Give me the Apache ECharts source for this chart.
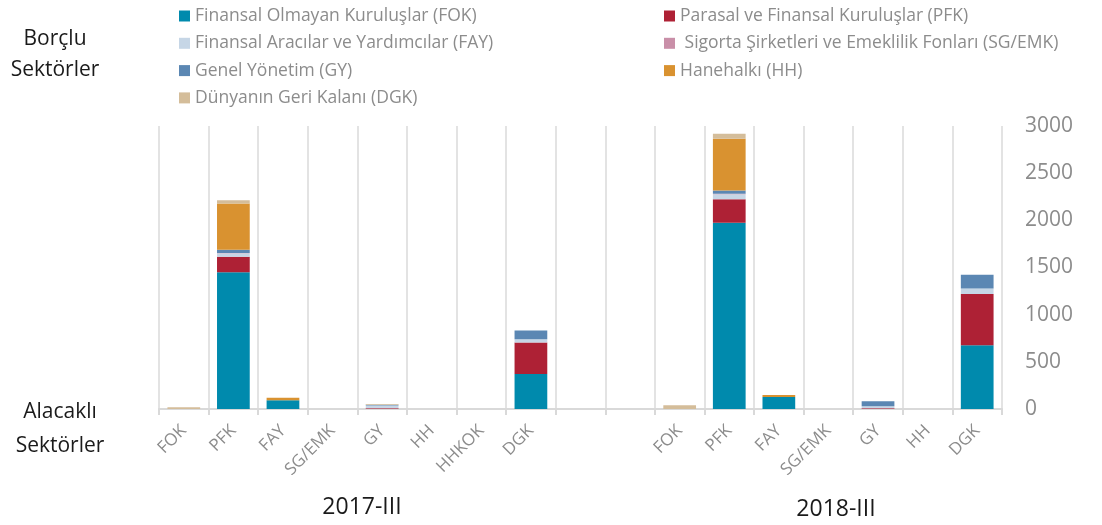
<!DOCTYPE html>
<html>
<head>
<meta charset="utf-8">
<script src="https://cdn.jsdelivr.net/npm/echarts@6/dist/echarts.min.js"></script>
<style>
html,body{margin:0;padding:0;background:#fff;}
#chart{width:1102px;height:525px;}
</style>
</head>
<body>
<div id="chart"></div>
<script>
// Categories (17 slots: 2017-III group, 2 empty slots, 2018-III group)
const categories = ['FOK','PFK','FAY','SG/EMK','GY','HH','HHKOK','DGK','','','FOK','PFK','FAY','SG/EMK','GY','HH','DGK'];
const groupLabels = ['2017-III','2018-III'];
const yTicks = [0,500,1000,1500,2000,2500,3000];

const seriesNames = [
  'Finansal Olmayan Kuruluşlar (FOK)',
  'Parasal ve Finansal Kuruluşlar (PFK)',
  'Finansal Aracılar ve Yardımcılar (FAY)',
  ' Sigorta Şirketleri ve Emeklilik Fonları (SG/EMK)',
  'Genel Yönetim (GY)',
  'Hanehalkı (HH)',
  'Dünyanın Geri Kalanı (DGK)'
];

// Values per lending (borçlu) sector, by category slot
const valFOK   = [0,1450,92,0,0,0,0,370, null,null, 0,1975,128,0,0,0,675];
const valPFK   = [0,165,0,0,8,0,0,335,   null,null, 0,248,0,0,8,0,543];
const valFAY   = [0,36,0,0,28,0,0,35,    null,null, 0,53,0,0,21,0,60];
const valSGEMK = [0,3,0,0,0,0,0,0,       null,null, 0,5,0,0,0,0,0];
const valGY    = [0,35,0,0,10,0,0,92,    null,null, 0,35,0,0,53,0,145];
const valHH    = [0,489,28,0,0,0,0,0,    null,null, 0,550,21,0,0,0,0];
const valDGK   = [18,36,0,0,8,0,0,0,     null,null, 40,53,0,0,0,0,0];

const seriesValues = [valFOK, valPFK, valFAY, valSGEMK, valGY, valHH, valDGK];
const colors = ['#008aad','#ae2135','#c6d6e6','#c98fa8','#5b87b3','#d99230','#d4bd9a'];

const chart = echarts.init(document.getElementById('chart'));
const FONT = "'Open Sans', 'DejaVu Sans', sans-serif";

const legendBase = {
  orient: 'vertical',
  top: 2,
  itemWidth: 11,
  itemHeight: 11,
  itemGap: 9.3,
  icon: 'rect',
  selectedMode: false,
  textStyle: {color: '#8c8c8c', fontSize: 17.5, fontFamily: FONT, lineHeight: 18, padding: [0,0,0,0]}
};

const option = {
  backgroundColor: '#ffffff',
  animation: false,
  color: colors,
  legend: [
    Object.assign({}, legendBase, {left: 174, data: [seriesNames[0], seriesNames[2], seriesNames[4], seriesNames[6]]}),
    Object.assign({}, legendBase, {left: 659, data: [seriesNames[1], seriesNames[3], seriesNames[5]]})
  ],
  grid: {left: 159, right: 100, top: 126, bottom: 116, containLabel: false},
  xAxis: {
    type: 'category',
    data: categories,
    boundaryGap: true,
    axisLine: {show: true, lineStyle: {color: '#d9d9d9', width: 2}},
    axisTick: {show: true, length: 6, interval: 0, lineStyle: {color: '#d9d9d9', width: 2}},
    splitLine: {show: true, interval: 0, lineStyle: {color: '#e3e3e3', width: 2}},
    axisLabel: {interval: 0, rotate: 45, color: '#8c8c8c', fontSize: 17, fontFamily: FONT, margin: 19}
  },
  yAxis: {
    type: 'value',
    position: 'right',
    min: yTicks[0],
    max: yTicks[yTicks.length - 1],
    interval: yTicks[1] - yTicks[0],
    axisLine: {show: false},
    axisTick: {show: false},
    splitLine: {show: false},
    axisLabel: {color: '#8c8c8c', fontSize: 21, fontFamily: FONT, margin: 23, formatter: v => String(v)}
  },
  series: seriesNames.map((name, i) => ({
    name: name,
    type: 'bar',
    stack: 'total',
    barWidth: '66%',
    data: seriesValues[i],
    itemStyle: {color: colors[i]}
  })),
  graphic: [
    {type: 'text', style: {text: 'Borçlu\nSektörler', x: 55, y: 24, textAlign: 'center', fill: '#1a1a1a', fontSize: 21, lineHeight: 31, fontFamily: FONT}},
    {type: 'text', style: {text: 'Alacaklı\nSektörler', x: 60, y: 395, textAlign: 'center', fill: '#1a1a1a', fontSize: 21, lineHeight: 34, fontFamily: FONT}},
    {type: 'text', style: {text: groupLabels[0], x: 362, y: 496, textAlign: 'center', fill: '#1a1a1a', fontSize: 23, fontFamily: FONT}},
    {type: 'text', style: {text: groupLabels[1], x: 836, y: 498, textAlign: 'center', fill: '#1a1a1a', fontSize: 23, fontFamily: FONT}}
  ]
};
chart.setOption(option);
</script>
</body>
</html>
